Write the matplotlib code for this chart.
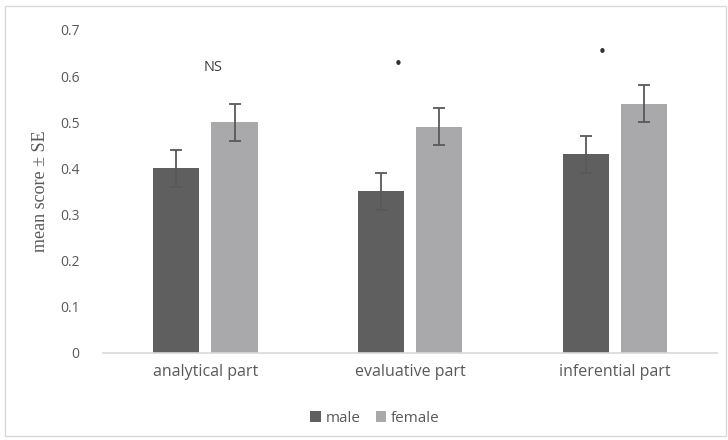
import numpy as np
import matplotlib.pyplot as plt
from matplotlib.patches import Rectangle

# datos
partes = ["analytical part", "evaluative part", "inferential part"]
male = [0.40, 0.35, 0.43]
female = [0.50, 0.49, 0.54]
male_se = [0.04, 0.04, 0.04]
female_se = [0.04, 0.04, 0.04]
marcas = ["NS", "•", "•"]
marca_x = [0.04, 0.94, 1.94]
marca_y = [0.619, 0.626, 0.652]

gris = "#595959"
fuente = "Open Sans"

fig = plt.figure(figsize=(7.28, 4.4), dpi=100)
ax = fig.add_axes([0.1415, 0.198, 0.8435, 0.734])

x = np.arange(len(partes))
ancho = 0.225
desp = ancho / 2 + 0.03
err = dict(ecolor=gris, elinewidth=1.3, capsize=4, capthick=1.3)
ax.bar(x - desp, male, ancho, yerr=male_se, color="#5f5f5f", label="male", error_kw=err)
ax.bar(x + desp, female, ancho, yerr=female_se, color="#a9a9ab", label="female", error_kw=err)

for t, mx, my in zip(marcas, marca_x, marca_y):
    if t == "NS":
        ax.text(mx, my, t, ha="center", va="center", fontsize=10.5, color="#404040", family=fuente)
    else:
        ax.text(mx, my, t, ha="center", va="center", fontsize=11, color="#333333")

ax.set_xlim(-0.5, 2.5)
ax.set_ylim(0, 0.7)
ax.set_yticks(np.arange(0, 0.71, 0.1))
ax.set_yticklabels(["0"] + ["%.1f" % v for v in np.arange(0.1, 0.71, 0.1)])
ax.set_xticks(x)
ax.set_xticklabels(partes)
for lab in ax.get_yticklabels():
    lab.set_family(fuente)
    lab.set_fontsize(10)
    lab.set_color(gris)
for lab in ax.get_xticklabels():
    lab.set_family(fuente)
    lab.set_fontsize(11.5)
    lab.set_color(gris)
ax.tick_params(axis="both", length=0)
ax.tick_params(axis="y", pad=17)
ax.tick_params(axis="x", pad=8)

for s in ["top", "right", "left"]:
    ax.spines[s].set_visible(False)
ax.spines["bottom"].set_color("#d9d9d9")
ax.spines["bottom"].set_linewidth(1.2)

ax.set_ylabel("mean score \u00b1 SE", family="Liberation Serif", fontsize=13, color=gris, labelpad=8)

fig.legend(loc="center", bbox_to_anchor=(0.515, 0.05), ncol=2, frameon=False,
           prop={"family": fuente, "size": 11}, handlelength=0.7, handleheight=0.7,
           handletextpad=0.3, columnspacing=1.0, labelcolor=gris)

# borde del area del grafico
fig.patches.append(Rectangle((0.007, 0.008), 0.99, 0.978, transform=fig.transFigure,
                             fill=False, edgecolor="#d9d9d9", linewidth=1))

fig.savefig("out.png", dpi=100)
